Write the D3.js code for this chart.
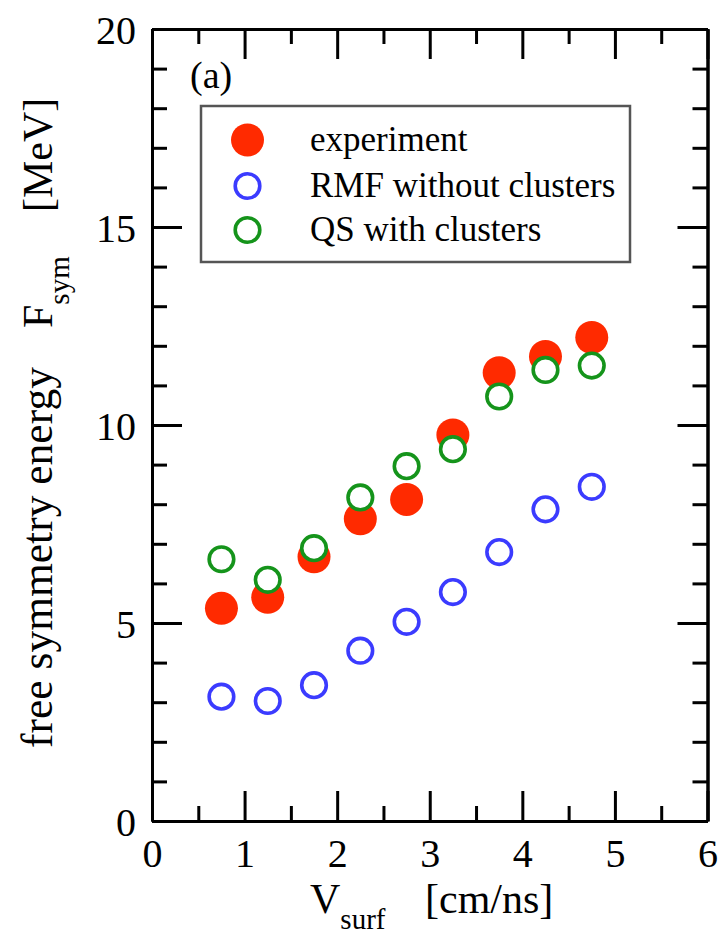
<!DOCTYPE html>
<html>
<head>
<meta charset="utf-8">
<script src="https://cdn.jsdelivr.net/npm/d3@7"></script>
<style>
  html, body { margin: 0; padding: 0; background: #fff; }
  svg { display: block; }
  svg text { font-family: "Liberation Serif", "Times New Roman", Times, "DejaVu Serif", "Noto Serif", serif !important; fill: #000; }
</style>
</head>
<body>
<svg id="chart" width="722" height="938"></svg>
<script>
// ---- data ----
const vsurf = [0.75, 1.25, 1.75, 2.25, 2.75, 3.25, 3.75, 4.25, 4.75];
const experiment = [5.37, 5.65, 6.67, 7.63, 8.12, 9.75, 11.32, 11.73, 12.21];
const rmfWithoutClusters = [3.14, 3.03, 3.43, 4.30, 5.03, 5.78, 6.79, 7.87, 8.44];
const qsWithClusters = [6.61, 6.09, 6.89, 8.17, 8.96, 9.39, 10.72, 11.39, 11.50];

const xMajorTicks = [0, 1, 2, 3, 4, 5, 6];
const xMinorTicks = [0.5, 1.5, 2.5, 3.5, 4.5, 5.5];
const yMajorTicks = [0, 5, 10, 15, 20];
const yMinorTicks = [1, 2, 3, 4, 6, 7, 8, 9, 11, 12, 13, 14, 16, 17, 18, 19];

const legendLabels = ["experiment", "RMF without clusters", "QS with clusters"];

// ---- layout ----
const svg = d3.select("#chart");
const L = 152, R = 707.5, T = 29, B = 821;
const x = d3.scaleLinear().domain([0, 6]).range([L, R]);
const y = d3.scaleLinear().domain([0, 20]).range([B, T]);

const RED = "#ff2a00", BLUE = "#3b3bff", GREEN = "#15941b";
const SERIF = "'Liberation Serif', 'Times New Roman', Times, 'DejaVu Serif', 'Noto Serif', serif";
const majorLen = 30, minorLen = 15;

function styleAxis(g) {
  g.attr("font-family", SERIF);
  g.selectAll(".domain").attr("stroke", "#000").attr("stroke-width", 3);
  g.selectAll(".tick line").attr("stroke", "#000").attr("stroke-width", 3);
}

// bottom
svg.append("g").attr("transform", `translate(0,${B})`)
  .call(d3.axisBottom(x).tickValues(xMajorTicks).tickSizeInner(-majorLen).tickSizeOuter(0).tickPadding(18).tickFormat(d3.format("d")))
  .call(styleAxis)
  .call(g => g.selectAll(".tick text").attr("font-size", 40).attr("fill", "#000"));
svg.append("g").attr("transform", `translate(0,${B})`)
  .call(d3.axisBottom(x).tickValues(xMinorTicks).tickSizeInner(-minorLen).tickSizeOuter(0).tickFormat(""))
  .call(styleAxis);
// top
svg.append("g").attr("transform", `translate(0,${T})`)
  .call(d3.axisTop(x).tickValues(xMajorTicks).tickSizeInner(-majorLen).tickSizeOuter(0).tickFormat(""))
  .call(styleAxis);
svg.append("g").attr("transform", `translate(0,${T})`)
  .call(d3.axisTop(x).tickValues(xMinorTicks).tickSizeInner(-minorLen).tickSizeOuter(0).tickFormat(""))
  .call(styleAxis);
// left
svg.append("g").attr("transform", `translate(${L},0)`)
  .call(d3.axisLeft(y).tickValues(yMajorTicks).tickSizeInner(-majorLen).tickSizeOuter(0).tickPadding(16).tickFormat(d3.format("d")))
  .call(styleAxis)
  .call(g => g.selectAll(".tick text").attr("font-size", 40).attr("fill", "#000").attr("dy", "0.37em"));
svg.append("g").attr("transform", `translate(${L},0)`)
  .call(d3.axisLeft(y).tickValues(yMinorTicks).tickSizeInner(-minorLen).tickSizeOuter(0).tickFormat(""))
  .call(styleAxis);
// right
svg.append("g").attr("transform", `translate(${R},0)`)
  .call(d3.axisRight(y).tickValues(yMajorTicks).tickSizeInner(-majorLen).tickSizeOuter(0).tickFormat(""))
  .call(styleAxis);
svg.append("g").attr("transform", `translate(${R},0)`)
  .call(d3.axisRight(y).tickValues(yMinorTicks).tickSizeInner(-minorLen).tickSizeOuter(0).tickFormat(""))
  .call(styleAxis);

// ---- data marks ----
const pts = (ys) => vsurf.map((v, i) => ({ v, f: ys[i] }));
svg.append("g").selectAll("circle").data(pts(experiment)).join("circle")
  .attr("cx", d => x(d.v)).attr("cy", d => y(d.f)).attr("r", 16.5).attr("fill", RED);
svg.append("g").selectAll("circle").data(pts(rmfWithoutClusters)).join("circle")
  .attr("cx", d => x(d.v)).attr("cy", d => y(d.f)).attr("r", 12.3)
  .attr("fill", "#fff").attr("stroke", BLUE).attr("stroke-width", 3.6);
svg.append("g").selectAll("circle").data(pts(qsWithClusters)).join("circle")
  .attr("cx", d => x(d.v)).attr("cy", d => y(d.f)).attr("r", 12.3)
  .attr("fill", "#fff").attr("stroke", GREEN).attr("stroke-width", 3.6);

// ---- panel label ----
svg.append("text").attr("x", 190).attr("y", 88).attr("font-size", 38).text("(a)");

// ---- legend ----
const lg = svg.append("g");
lg.append("rect").attr("x", 201).attr("y", 106).attr("width", 429).attr("height", 156)
  .attr("fill", "#fff").attr("stroke", "#555").attr("stroke-width", 2.5);
const rowY = [140, 186, 230];
const legStyles = [
  { fill: RED, stroke: "none", r: 16.5, sw: 0 },
  { fill: "#fff", stroke: BLUE, r: 12.3, sw: 3.6 },
  { fill: "#fff", stroke: GREEN, r: 12.3, sw: 3.6 }
];
legendLabels.forEach((lab, i) => {
  lg.append("circle").attr("cx", 247.5).attr("cy", rowY[i]).attr("r", legStyles[i].r)
    .attr("fill", legStyles[i].fill).attr("stroke", legStyles[i].stroke).attr("stroke-width", legStyles[i].sw);
  lg.append("text").attr("x", 310).attr("y", rowY[i] + 11).attr("font-size", 35).text(lab);
});

// ---- axis titles ----
const xt = svg.append("text").attr("x", 310).attr("y", 913).attr("font-size", 42);
xt.append("tspan").text("V");
xt.append("tspan").attr("font-size", 29).attr("dy", 16).text("surf");
xt.append("tspan").attr("x", 425).attr("dy", -16).text("[cm/ns]");

const yt = svg.append("text").attr("transform", "translate(52,0) rotate(-90)")
  .attr("x", -748).attr("y", 0).attr("font-size", 42);
yt.append("tspan").attr("font-size", 43.5).text("free symmetry energy");
yt.append("tspan").attr("x", -328).text("F");
yt.append("tspan").attr("font-size", 29).attr("dy", 17).text("sym");
yt.append("tspan").attr("x", -212).attr("dy", -17).text("[MeV]");
</script>
</body>
</html>
